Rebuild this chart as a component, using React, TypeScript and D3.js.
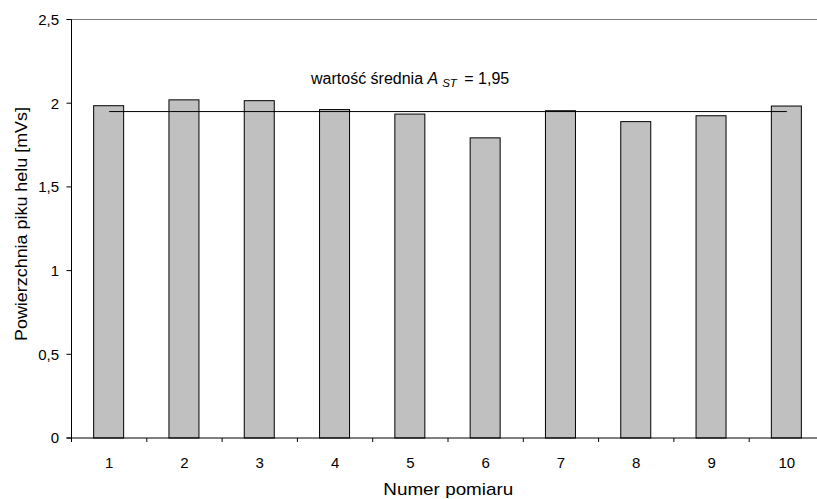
import React from "react";
import * as d3 from "d3";

const categories = ["1", "2", "3", "4", "5", "6", "7", "8", "9", "10"];
const values = [1.985, 2.02, 2.015, 1.962, 1.935, 1.793, 1.955, 1.89, 1.925, 1.983];
const meanValue = 1.95;
const yTicks = [0, 0.5, 1, 1.5, 2, 2.5];
const yTickLabels = ["0", "0,5", "1", "1,5", "2", "2,5"];

const W = 817;
const H = 499;
const left = 71.5;
const right = 824.5;
const top = 19.5;
const bottom = 438;

export default function App() {
  const xb = d3.scaleBand<string>().domain(categories).range([left, right]);
  const y = d3.scaleLinear().domain([0, 2.5]).range([bottom, top]);
  const font = "'Liberation Sans', Arial, sans-serif";
  const c1 = (xb("1") ?? 0) + xb.bandwidth() / 2;
  const c10 = (xb("10") ?? 0) + xb.bandwidth() / 2;
  const barW = 30;
  return (
    <svg width={W} height={H} style={{ position: "absolute", left: 0, top: 0, background: "#fff" }} fontFamily={font}>
      <line x1={left - 5} x2={W} y1={y(2.5)} y2={y(2.5)} stroke="#808080" strokeWidth={1.2} />
      {values.map((v, i) => {
        const cx = (xb(categories[i]) ?? 0) + xb.bandwidth() / 2;
        return (
          <rect key={i} x={cx - barW / 2 - 0.5} y={y(v)} width={barW} height={bottom - y(v)} fill="#c0c0c0" stroke="#000" strokeWidth={1} />
        );
      })}
      <line x1={c1} x2={c10} y1={y(meanValue)} y2={y(meanValue)} stroke="#000" strokeWidth={1} />
      <line x1={left} x2={left} y1={top} y2={bottom} stroke="#000" strokeWidth={1} />
      <line x1={left - 5} x2={W} y1={bottom} y2={bottom} stroke="#000" strokeWidth={1} />
      {yTicks.map((t, i) => (
        <g key={t}>
          <line x1={left - 5} x2={left} y1={y(t)} y2={y(t)} stroke="#000" />
          <text x={59} y={y(t)} dy="0.36em" textAnchor="end" fontSize={15} fill="#000">{yTickLabels[i]}</text>
        </g>
      ))}
      {categories.map((c) => {
        const bx = xb(c) ?? 0;
        return (
          <g key={c}>
            <line x1={bx} x2={bx} y1={bottom} y2={bottom + 4} stroke="#000" />
            <text x={bx + xb.bandwidth() / 2} y={467.5} textAnchor="middle" fontSize={15} fill="#000">{c}</text>
          </g>
        );
      })}
      <text x={448.3} y={494.5} textAnchor="middle" fontSize={17} textLength={130} lengthAdjust="spacingAndGlyphs" fill="#000">Numer pomiaru</text>
      <text transform={`translate(26.5,224) rotate(-90)`} textAnchor="middle" fontSize={17} textLength={234} lengthAdjust="spacingAndGlyphs" fill="#000">Powierzchnia piku helu [mVs]</text>
      <text x={311} y={83.5} fontSize={16} fill="#000">
        wartość średnia <tspan fontStyle="italic">A</tspan>
        <tspan fontStyle="italic" fontSize={11.5} dy={3} dx={4}>ST</tspan>
        <tspan dy={-3} dx={3}> = 1,95</tspan>
      </text>
    </svg>
  );
}
